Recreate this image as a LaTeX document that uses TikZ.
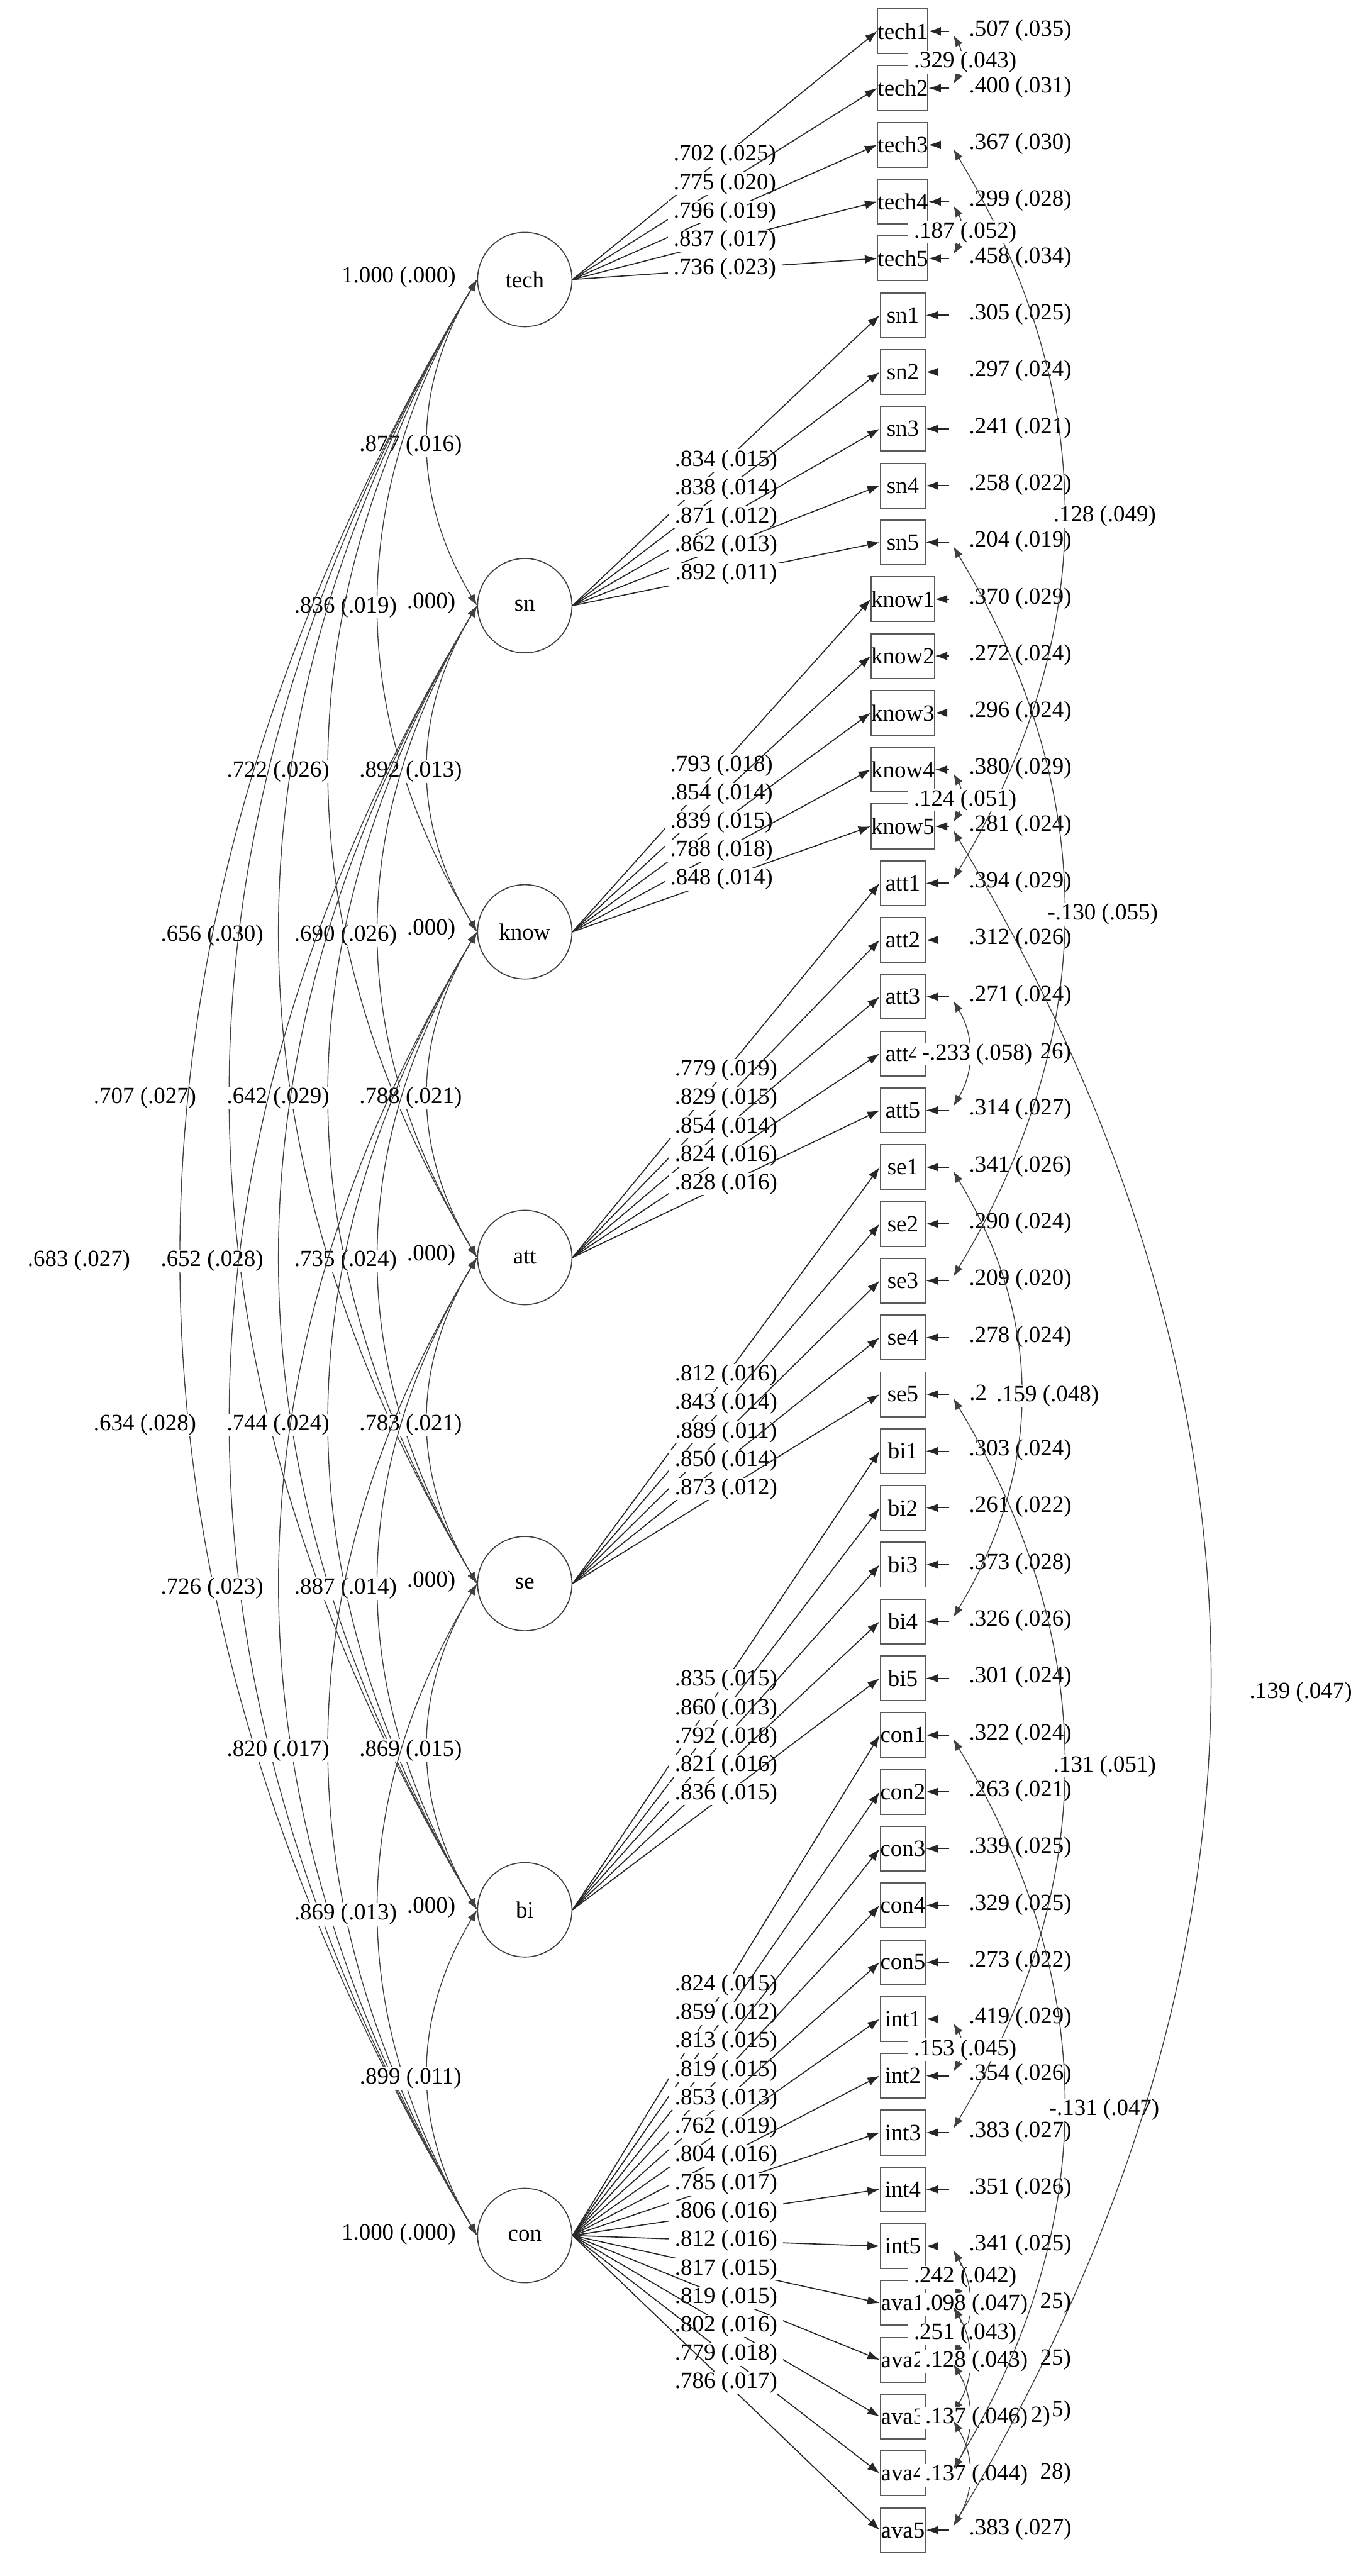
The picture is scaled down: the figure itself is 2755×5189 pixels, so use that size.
\documentclass[tikz,border=0pt]{standalone}
\usepackage{fontspec}
\setmainfont{Liberation Serif}
\usetikzlibrary{arrows.meta,calc}
\begin{document}
\begin{tikzpicture}[x=0.01cm,y=-0.01cm,
  every node/.style={font=\fontsize{13.3}{16}\selectfont},
  latent/.style={draw=black!75, line width=0.6pt, circle, minimum size=1.9cm, inner sep=0pt},
  ind/.style={draw=black!65, line width=0.7pt, rectangle, minimum width=0.91cm, minimum height=0.90cm, inner sep=0pt},
  lab/.style={fill=white, inner xsep=3.3pt, inner ysep=0.4pt},
  frag/.style={inner sep=0pt},
  load/.style={draw=black!85, line width=0.6pt, -{Latex[length=7pt,width=5pt]}},
  resid/.style={draw=black!85, line width=0.6pt, -{Latex[length=7pt,width=5pt]}},
  cov/.style={draw=black!75, line width=0.5pt, {Latex[length=6.5pt,width=4.6pt]}-{Latex[length=6.5pt,width=4.6pt]}},
]
\path[use as bounding box, fill=white] (0,0) rectangle (2755,5189);

% latent factors
\foreach \n/\py in {tech/563, sn/1220, know/1877, att/2533, se/3190, bi/3847, con/4503}
  \node[latent] (\n) at (1057,\py) {\n};

% factor variances (middle ones are mostly covered in the original)
\node[lab] (vtech) at (803,558) {1.000 (.000)};
\node[lab] (vcon) at (803,4500) {1.000 (.000)};
\foreach \n/\py in {sn/1215, know/1872, att/2528, se/3185, bi/3842}
  \node[frag, anchor=east] (v\n) at (918,\py) {.000)};

% factor covariances
\foreach \a/\b/\v/\px/\py in {
  tech/sn/{.877 (.016)}/827/898,
  tech/know/{.836 (.019)}/696/1223,
  tech/att/{.722 (.026)}/560/1554,
  tech/se/{.656 (.030)}/427/1884,
  tech/bi/{.707 (.027)}/292/2212,
  tech/con/{.683 (.027)}/159/2540,
  sn/know/{.892 (.013)}/827/1554,
  sn/att/{.690 (.026)}/696/1884,
  sn/se/{.642 (.029)}/560/2212,
  sn/bi/{.652 (.028)}/427/2540,
  sn/con/{.634 (.028)}/292/2870,
  know/att/{.788 (.021)}/827/2212,
  know/se/{.735 (.024)}/696/2540,
  know/bi/{.744 (.024)}/560/2870,
  know/con/{.726 (.023)}/427/3200,
  att/se/{.783 (.021)}/827/2870,
  att/bi/{.887 (.014)}/696/3200,
  att/con/{.820 (.017)}/560/3526,
  se/bi/{.869 (.015)}/827/3526,
  se/con/{.869 (.013)}/696/3856,
  bi/con/{.899 (.011)}/827/4187}
{
  \draw[cov] (\a.west) .. controls ($(\a.west)!0.3915!-31:(\b.west)$) and ($(\b.west)!0.3915!31:(\a.west)$) .. (\b.west);
  \node[lab] (l\a\b) at (\px,\py) {\v};
}

% indicators
\foreach \n [count=\i from 0] in {tech1,tech2,tech3,tech4,tech5,sn1,sn2,sn3,sn4,sn5,know1,know2,know3,know4,know5,att1,att2,att3,att4,att5,se1,se2,se3,se4,se5,bi1,bi2,bi3,bi4,bi5,con1,con2,con3,con4,con5,int1,int2,int3,int4,int5,ava1,ava2,ava3,ava4,ava5}
{
  \pgfmathsetmacro\yy{63+114.4*\i}
  \node[ind] (\n) at (1818.5,\yy) {\n};
  \coordinate (e\n) at (1912,\yy);
  \coordinate (cu\n) at (1920,\yy-8);
  \coordinate (cd\n) at (1920,\yy+8);
  \draw[resid] (e\n) -- (\n.east);
}

% loadings
\foreach \l/\n/\v in {
  tech/tech1/{.702 (.025)}, tech/tech2/{.775 (.020)}, tech/tech3/{.796 (.019)}, tech/tech4/{.837 (.017)}, tech/tech5/{.736 (.023)},
  sn/sn1/{.834 (.015)}, sn/sn2/{.838 (.014)}, sn/sn3/{.871 (.012)}, sn/sn4/{.862 (.013)}, sn/sn5/{.892 (.011)},
  know/know1/{.793 (.018)}, know/know2/{.854 (.014)}, know/know3/{.839 (.015)}, know/know4/{.788 (.018)}, know/know5/{.848 (.014)},
  att/att1/{.779 (.019)}, att/att2/{.829 (.015)}, att/att3/{.854 (.014)}, att/att4/{.824 (.016)}, att/att5/{.828 (.016)},
  se/se1/{.812 (.016)}, se/se2/{.843 (.014)}, se/se3/{.889 (.011)}, se/se4/{.850 (.014)}, se/se5/{.873 (.012)},
  bi/bi1/{.835 (.015)}, bi/bi2/{.860 (.013)}, bi/bi3/{.792 (.018)}, bi/bi4/{.821 (.016)}, bi/bi5/{.836 (.015)},
  con/con1/{.824 (.015)}, con/con2/{.859 (.012)}, con/con3/{.813 (.015)}, con/con4/{.819 (.015)}, con/con5/{.853 (.013)},
  con/int1/{.762 (.019)}, con/int2/{.804 (.016)}, con/int3/{.785 (.017)}, con/int4/{.806 (.016)}, con/int5/{.812 (.016)},
  con/ava1/{.817 (.015)}, con/ava2/{.819 (.015)}, con/ava3/{.802 (.016)}, con/ava4/{.779 (.018)}, con/ava5/{.786 (.017)}}
{
  \draw[load] (\l.east) -- (\n.west) node[lab, pos=0.5] (m\n) {\v};
}

% residual variances
\foreach \n/\v in {
  tech1/{.507 (.035)}, tech2/{.400 (.031)}, tech3/{.367 (.030)}, tech4/{.299 (.028)}, tech5/{.458 (.034)},
  sn1/{.305 (.025)}, sn2/{.297 (.024)}, sn3/{.241 (.021)}, sn4/{.258 (.022)}, sn5/{.204 (.019)},
  know1/{.370 (.029)}, know2/{.272 (.024)}, know3/{.296 (.024)}, know4/{.380 (.029)}, know5/{.281 (.024)},
  att1/{.394 (.029)}, att2/{.312 (.026)}, att3/{.271 (.024)}, att5/{.314 (.027)},
  se1/{.341 (.026)}, se2/{.290 (.024)}, se3/{.209 (.020)}, se4/{.278 (.024)},
  bi1/{.303 (.024)}, bi2/{.261 (.022)}, bi3/{.373 (.028)}, bi4/{.326 (.026)}, bi5/{.301 (.024)},
  con1/{.322 (.024)}, con2/{.263 (.021)}, con3/{.339 (.025)}, con4/{.329 (.025)}, con5/{.273 (.022)},
  int1/{.419 (.029)}, int2/{.354 (.026)}, int3/{.383 (.027)}, int4/{.351 (.026)}, int5/{.341 (.025)},
  ava5/{.383 (.027)}}
{
  \node[lab] (r\n) at ($(e\n)+(143,-2)$) {\v};
}

% residual covariances
\foreach \a/\b/\v/\px/\py in {
  tech1/tech2/{.329 (.043)}/1944/125,
  tech3/att1/{.128 (.049)}/2225/1040,
  tech4/tech5/{.187 (.052)}/1944/468,
  sn5/se3/{-.130 (.055)}/2221/1842,
  know4/know5/{.124 (.051)}/1944/1612,
  att3/att5/{-.233 (.058)}/1968/2124,
  se1/bi4/{.159 (.048)}/2110/2812,
  se5/int3/{.131 (.051)}/2225/3558,
  int1/int2/{.153 (.045)}/1944/4129,
  int5/ava1/{.242 (.042)}/1944/4587,
  int5/ava2/{.098 (.047)}/1967/4642,
  ava1/ava2/{.251 (.043)}/1944/4701,
  ava1/ava3/{.128 (.043)}/1967/4757,
  ava2/ava4/{.137 (.046)}/1967/4871,
  ava3/ava5/{.137 (.044)}/1967/4986,
  con1/ava4/{-.131 (.047)}/2224/4250,
  know5/ava5/{.139 (.047)}/2620/3410}
{
  \draw[cov] (cd\a) .. controls ($(cd\a)!0.3915!31:(cu\b)$) and ($(cu\b)!0.3915!-31:(cd\a)$) .. (cu\b);
  \node[lab] (w\a\b) at (\px,\py) {\v};
}

% partly hidden residual labels
\node[frag, anchor=east] (fatt4) at (2158,2122) {26)};
\node[frag, anchor=west] (fse5) at (1952,2806) {.2};
\node[frag, anchor=east] (fava1) at (2158,4639) {25)};
\node[frag, anchor=east] (fava2) at (2158,4753) {25)};
\node[frag] (fava3a) at (2096,4868) {2)};
\node[frag, anchor=east] (fava3b) at (2158,4856) {5)};
\node[frag, anchor=east] (fava4) at (2158,4982) {28)};
\end{tikzpicture}
\end{document}
